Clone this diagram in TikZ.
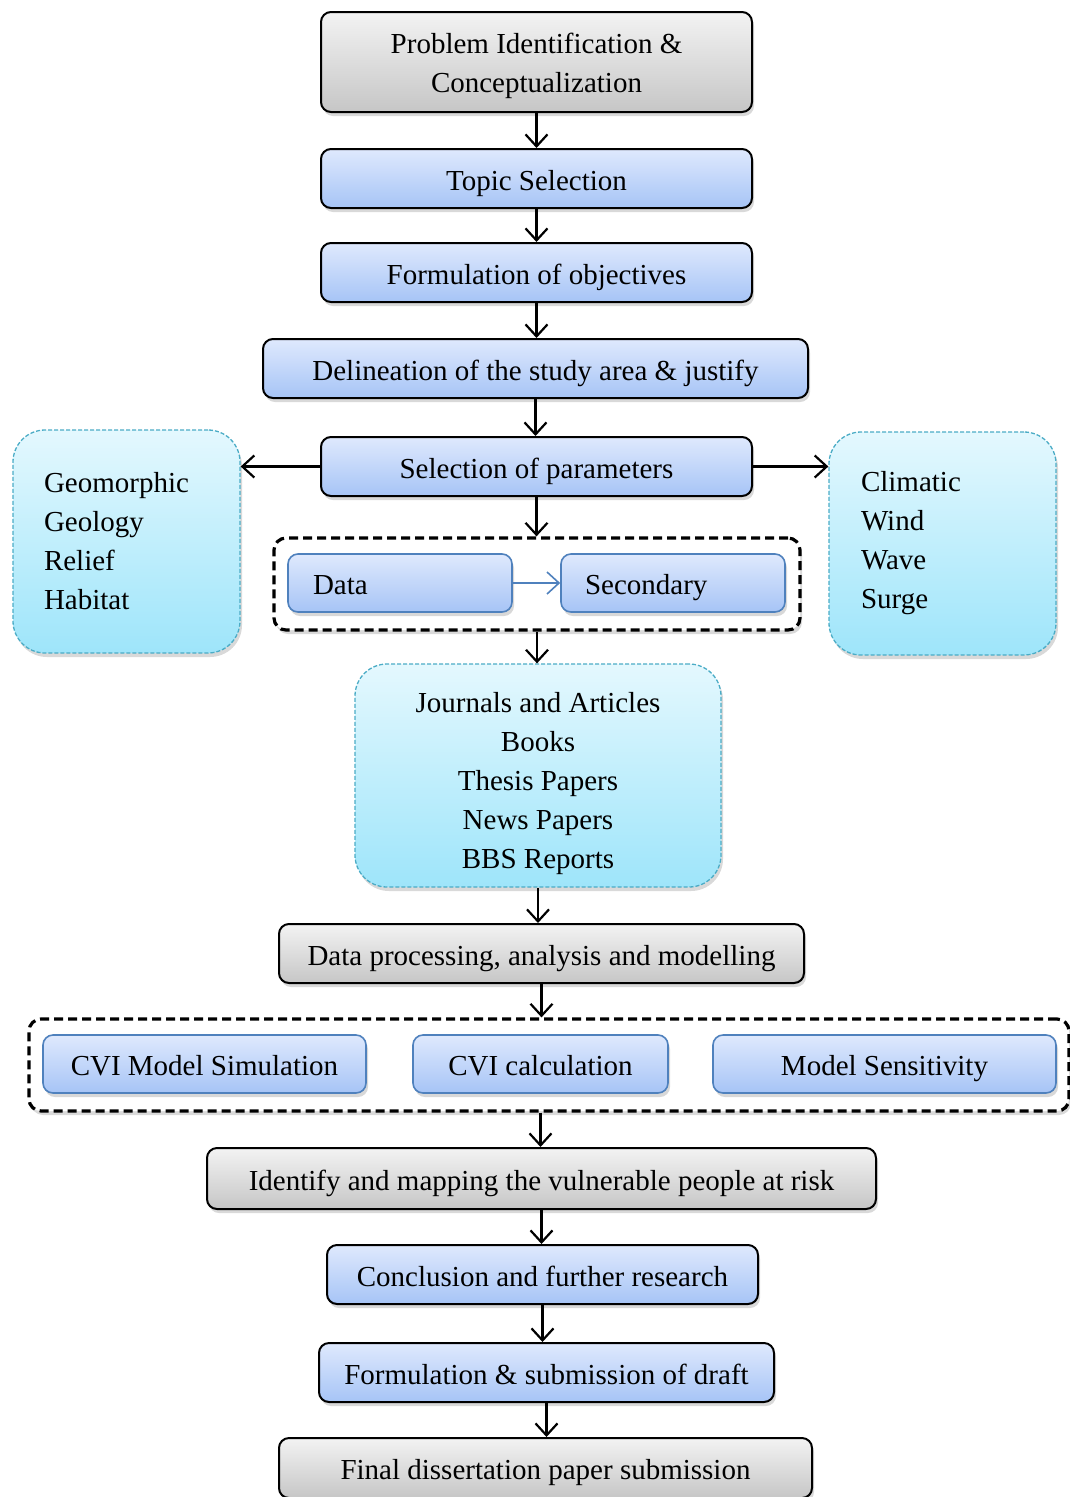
\documentclass[tikz,border=0pt]{standalone}
\usepackage{fontspec}
\setmainfont{Liberation Serif}
\usetikzlibrary{arrows.meta,shadows}

\definecolor{blueTop}{RGB}{223,233,253}
\definecolor{blueBot}{RGB}{166,196,246}
\definecolor{grayTop}{RGB}{243,243,243}
\definecolor{grayBot}{RGB}{198,198,198}
\definecolor{cyanTop}{RGB}{228,248,254}
\definecolor{cyanBot}{RGB}{158,229,250}
\definecolor{cyanLine}{RGB}{75,172,198}
\definecolor{blueLine}{RGB}{79,129,189}

\begin{document}
\begin{tikzpicture}[x=1pt,y=-1pt,font=\fontsize{29}{39}\selectfont,
  shade/.style={drop shadow={opacity=0.3,shadow xshift=2pt,shadow yshift=-4pt}},
  oneline/.style={text height=29.5pt,text depth=6.5pt},
  box/.style={shade,draw=black,line width=2pt,rounded corners=10pt,inner sep=0pt,align=center},
  bluebox/.style={box,oneline,top color=blueTop,bottom color=blueBot},
  graybox/.style={box,oneline,top color=grayTop,bottom color=grayBot},
  softbox/.style={shade,oneline,draw=blueLine,line width=1.6pt,rounded corners=10pt,top color=blueTop,bottom color=blueBot,inner sep=0pt},
  listbox/.style={shade,draw=cyanLine,line width=1.3pt,dash pattern=on 4pt off 2pt,rounded corners=32pt,top color=cyanTop,bottom color=cyanBot},
  group/.style={shade,fill=white,draw=black,line width=3.2pt,dash pattern=on 9pt off 5pt,rounded corners=12pt,inner sep=0pt},
  arr/.style={-{Straight Barb[length=12pt,width=22pt]},line width=2.2pt}]

  \useasboundingbox (0,0) rectangle (1069,1497);

  \node (PROB) at (536.5,62) [box,text height=68pt,top color=grayTop,bottom color=grayBot,minimum width=431pt,minimum height=100pt]
    {Problem Identification \&\\Conceptualization};
  \node (TOPIC) at (536.5,178.5) [bluebox,minimum width=431pt,minimum height=59pt] {Topic Selection};
  \node (OBJ) at (536.5,272.5) [bluebox,minimum width=431pt,minimum height=59pt] {Formulation of objectives};
  \node (DELIN) at (535.5,368.5) [bluebox,minimum width=545pt,minimum height=59pt] {Delineation of the study area \& justify};
  \node (PARAM) at (536.5,466.5) [bluebox,minimum width=431pt,minimum height=59pt] {Selection of parameters};

  \node (GEO) at (126.5,541.5) [listbox,minimum width=227pt,minimum height=223pt,
    inner xsep=31pt,text width=165pt,align=left]
    {Geomorphic\\Geology\\Relief\\Habitat};
  \node (CLIM) at (942.5,543.5) [listbox,minimum width=227pt,minimum height=223pt,
    inner xsep=32pt,text width=163pt,align=left]
    {Climatic\\Wind\\Wave\\Surge};

  \node (GRPA) at (537,584) [group,minimum width=526pt,minimum height=92pt] {};
  \node (DATA) at (400,583) [softbox,minimum width=224pt,minimum height=58pt,
    inner xsep=25pt,text width=174pt,align=left] {Data};
  \node (SEC) at (673,583) [softbox,minimum width=224pt,minimum height=58pt,
    inner xsep=24pt,text width=176pt,align=left] {Secondary};

  \node (JOUR) at (538,775.5) [listbox,text height=192pt,minimum width=366pt,minimum height=223pt,align=center]
    {Journals and Articles\\Books\\Thesis Papers\\News Papers\\BBS Reports};

  \node (PROC) at (541.5,953.5) [graybox,minimum width=525pt,minimum height=59pt] {Data processing, analysis and modelling};

  \node (GRPB) at (549,1065) [group,minimum width=1040pt,minimum height=92pt] {};
  \node (CVIS) at (204.5,1064) [softbox,minimum width=323pt,minimum height=58pt] {CVI Model Simulation};
  \node (CVIC) at (540.5,1064) [softbox,minimum width=255pt,minimum height=58pt] {CVI calculation};
  \node (SENS) at (884.5,1064) [softbox,minimum width=343pt,minimum height=58pt] {Model Sensitivity};

  \node (IDEN) at (541.5,1178.5) [graybox,minimum width=669pt,minimum height=61pt] {Identify and mapping the vulnerable people at risk};
  \node (CONC) at (542.5,1274.5) [bluebox,minimum width=431pt,minimum height=59pt] {Conclusion and further research};
  \node (DRAFT) at (546.5,1372.5) [bluebox,minimum width=455pt,minimum height=59pt] {Formulation \& submission of draft};
  \node (FINAL) at (545.5,1468) [graybox,minimum width=533pt,minimum height=60pt] {Final dissertation paper submission};

  \draw[arr] (PROB.south) -- (PROB.south |- TOPIC.north);
  \draw[arr] (TOPIC.south) -- (TOPIC.south |- OBJ.north);
  \draw[arr] (OBJ.south) -- (OBJ.south |- DELIN.north);
  \draw[arr] (DELIN.south) -- (DELIN.south |- PARAM.north);
  \draw[arr] (PARAM.south) -- (PARAM.south |- GRPA.north);
  \draw[arr] (PARAM.west) -- (PARAM.west -| GEO.east);
  \draw[arr] (PARAM.east) -- (PARAM.east -| CLIM.west);
  \draw[arr,blueLine,line width=1.6pt] (DATA.east) -- (SEC.west);
  \draw[arr] (GRPA.south) -- (GRPA.south |- JOUR.north);
  \draw[arr] (JOUR.south) -- (JOUR.south |- PROC.north);
  \draw[arr] (PROC.south) -- (PROC.south |- GRPB.north);
  \draw[arr] (CVIC.south |- GRPB.south) -- (CVIC.south |- IDEN.north);
  \draw[arr] (IDEN.south) -- (IDEN.south |- CONC.north);
  \draw[arr] (CONC.south) -- (CONC.south |- DRAFT.north);
  \draw[arr] (DRAFT.south) -- (DRAFT.south |- FINAL.north);

\end{tikzpicture}
\end{document}
